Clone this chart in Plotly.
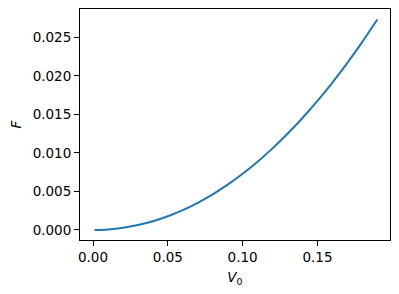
import plotly.graph_objects as go

# Values
v0 = [0.001, 0.01, 0.02, 0.03, 0.04, 0.05, 0.06, 0.07, 0.08, 0.09, 0.10,
      0.11, 0.12, 0.13, 0.14, 0.15, 0.16, 0.17, 0.18, 0.19]
force = [0.0, 0.00007, 0.00028, 0.00064, 0.00114, 0.00179, 0.00258, 0.00353,
         0.00463, 0.00589, 0.0073, 0.00887, 0.0106, 0.01249, 0.01454, 0.01676,
         0.01915, 0.0217, 0.02443, 0.02733]

fig = go.Figure()
fig.add_trace(go.Scatter(x=v0, y=force, mode="lines",
                         line=dict(color="#1f77b4", width=2, shape="spline"),
                         showlegend=False))

font = dict(family="DejaVu Sans", size=13.5, color="black")
axis_common = dict(showline=True, mirror=True, linecolor="black", linewidth=1,
                   ticks="outside", ticklen=5, tickwidth=1, tickcolor="black",
                   showgrid=False, zeroline=False, tickfont=font)

fig.update_xaxes(range=[-0.0087, 0.1985], tick0=0, dtick=0.05, tickformat=".2f",
                 title=dict(text="<i>V</i><sub>0</sub>", font=font, standoff=8),
                 **axis_common)
fig.update_yaxes(range=[-0.0013, 0.0287], tick0=0, dtick=0.005, tickformat=".3f",
                 title=dict(text="<i>F</i>", font=font, standoff=7),
                 **axis_common)

fig.update_layout(width=399, height=294,
                  margin=dict(l=80, r=9, t=9, b=54),
                  plot_bgcolor="white", paper_bgcolor="white", font=font)

fig.write_html("out.html")
